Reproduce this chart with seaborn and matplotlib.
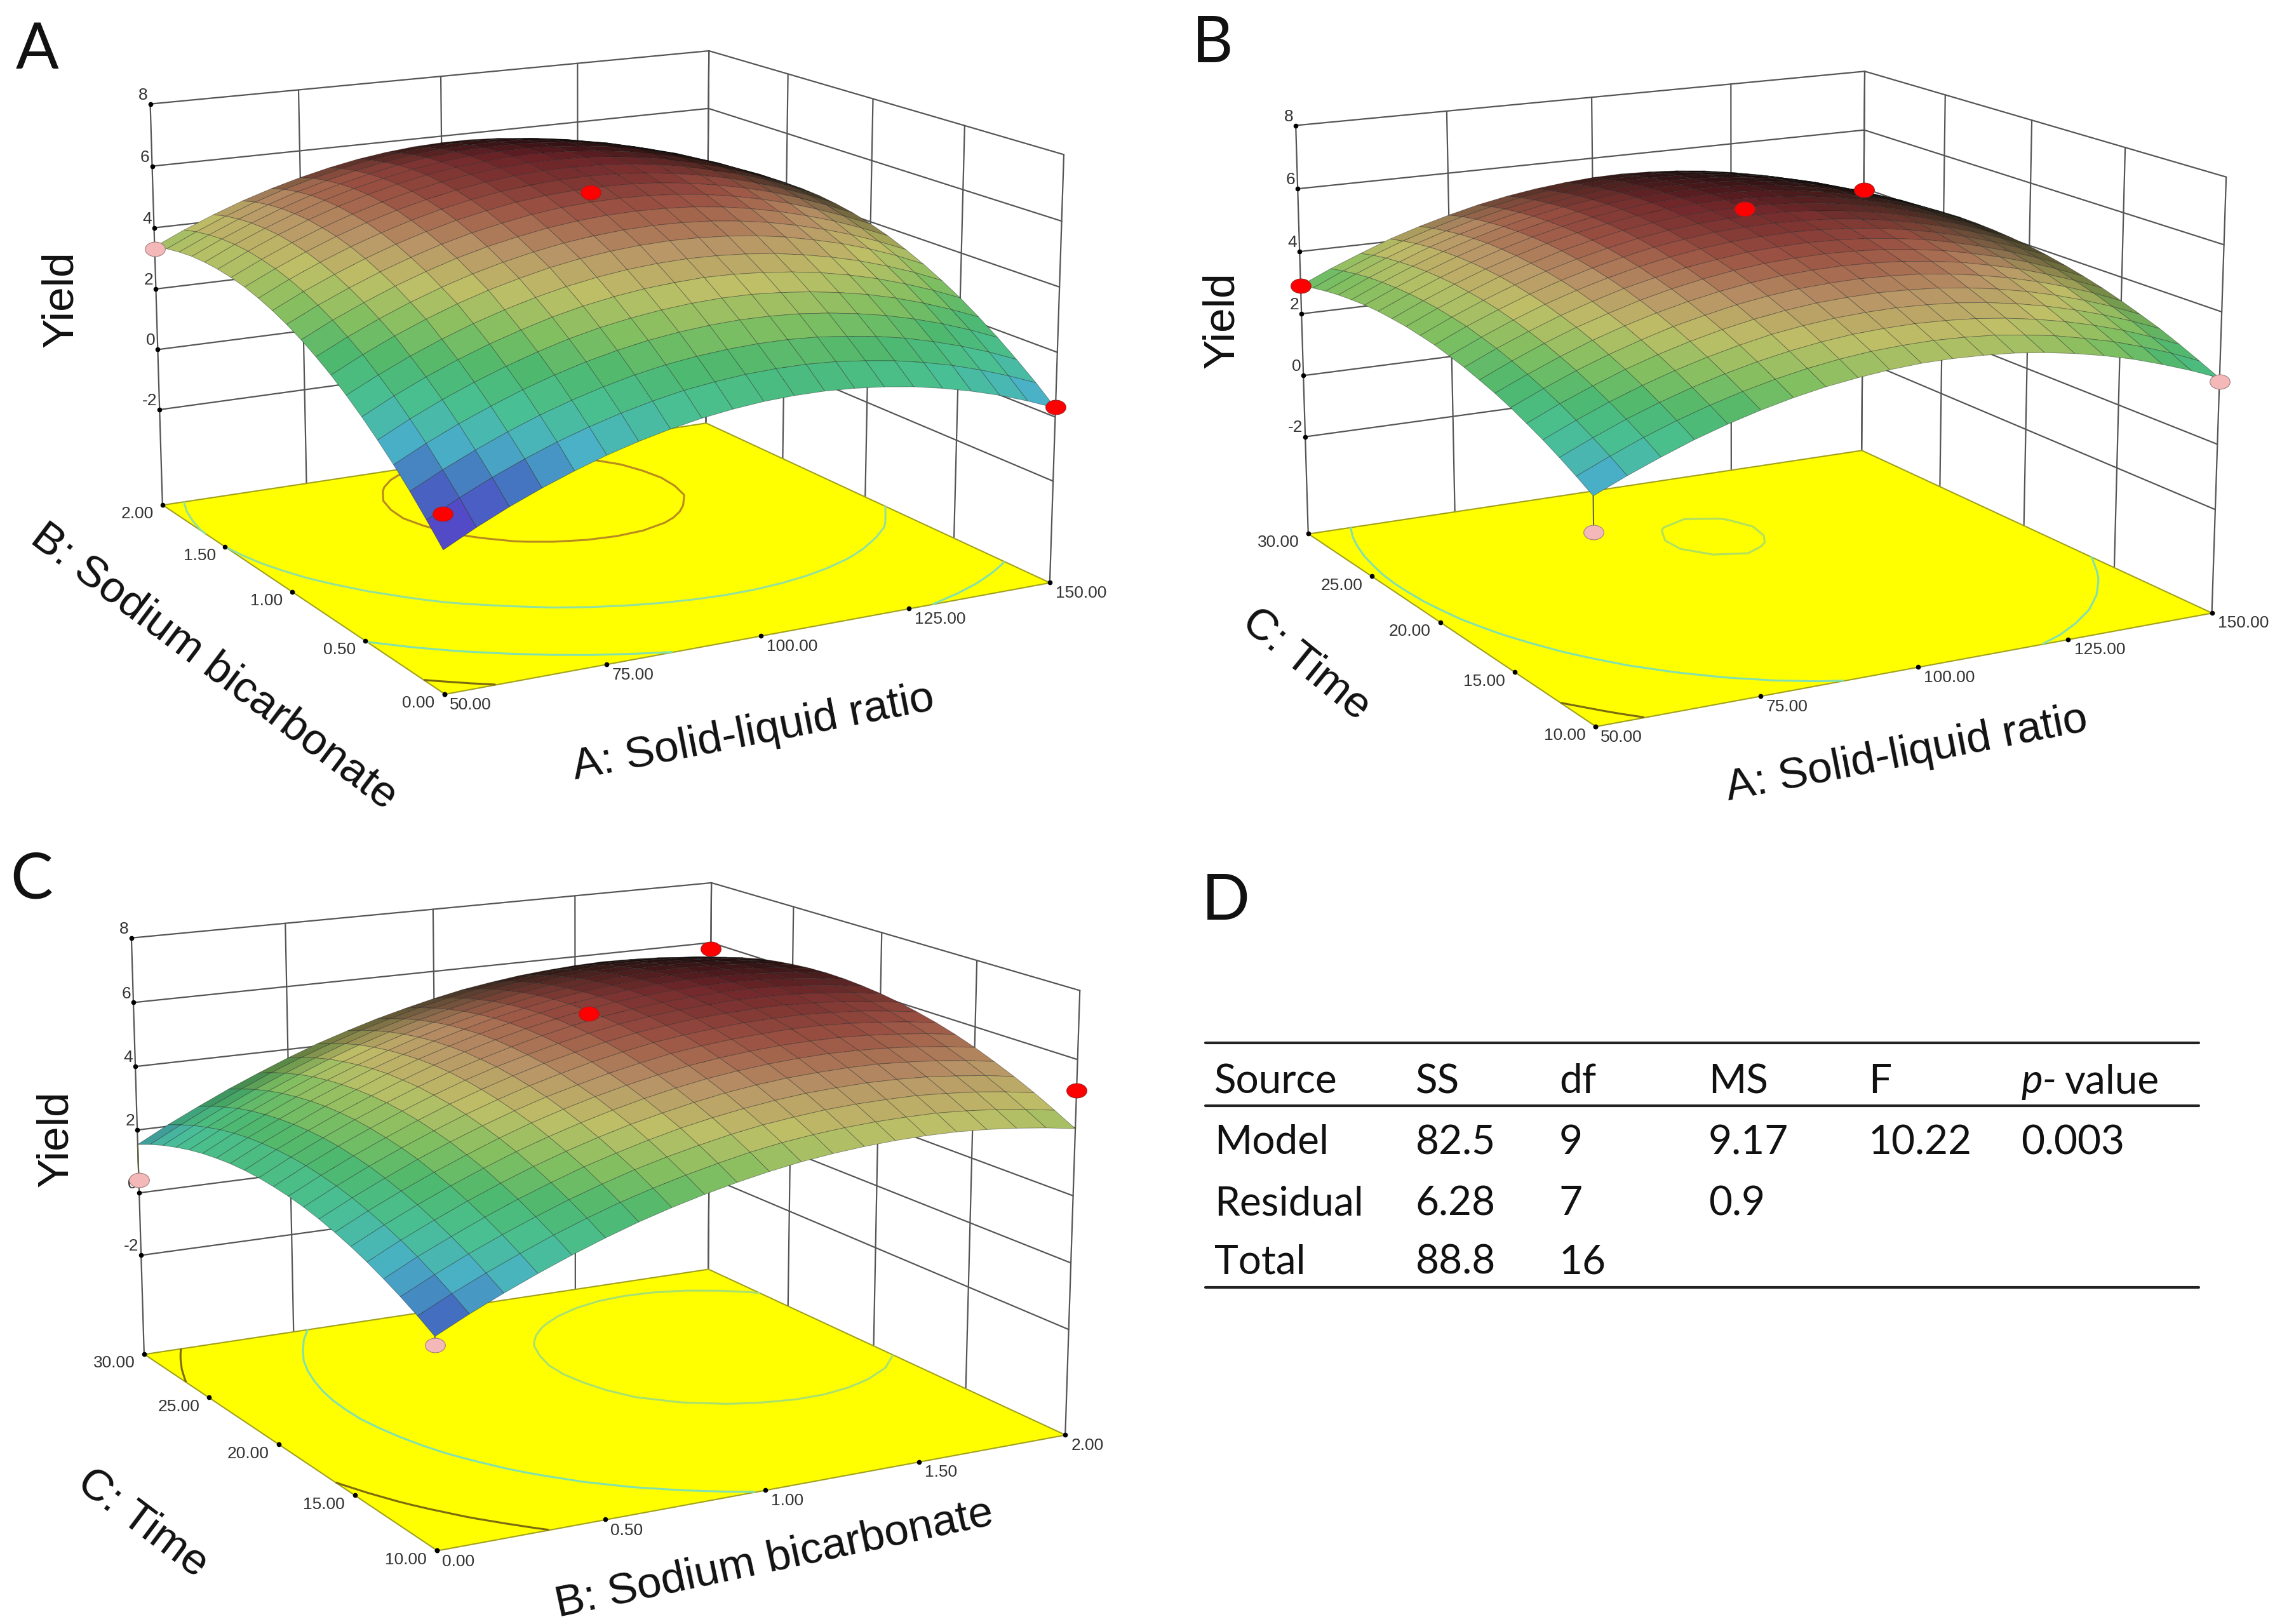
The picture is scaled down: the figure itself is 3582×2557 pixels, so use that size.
import numpy as np
import matplotlib
matplotlib.use("Agg")
import matplotlib.pyplot as plt
import matplotlib.path as mpath
from matplotlib.lines import Line2D
from matplotlib.transforms import Affine2D
from mpl_toolkits.mplot3d import proj3d
import seaborn as sns

# axis grids and ticks
ratio_grid = [50, 55, 60, 65, 70, 75, 80, 85, 90, 95, 100, 105, 110, 115, 120, 125, 130, 135, 140, 145, 150]
soda_grid = [0, 0.1, 0.2, 0.3, 0.4, 0.5, 0.6, 0.7, 0.8, 0.9, 1.0, 1.1, 1.2, 1.3, 1.4, 1.5, 1.6, 1.7, 1.8, 1.9, 2.0]
time_grid = [10, 11, 12, 13, 14, 15, 16, 17, 18, 19, 20, 21, 22, 23, 24, 25, 26, 27, 28, 29, 30]
ratio_ticks = [50, 75, 100, 125, 150]
soda_ticks = [0, 0.5, 1.0, 1.5, 2.0]
time_ticks = [10, 15, 20, 25, 30]
yield_ticks = [-2, 0, 2, 4, 6, 8]

yield_a = [
    [-1.03, -0.54, -0.10, 0.29, 0.64, 0.95, 1.21, 1.43, 1.61, 1.74, 1.83, 1.87, 1.87, 1.82, 1.73, 1.60, 1.42, 1.20, 0.94, 0.63, 0.28],
    [-0.45, 0.04, 0.48, 0.87, 1.22, 1.52, 1.78, 2.00, 2.18, 2.30, 2.39, 2.43, 2.43, 2.38, 2.28, 2.15, 1.97, 1.75, 1.48, 1.17, 0.82],
    [0.10, 0.58, 1.01, 1.40, 1.75, 2.05, 2.31, 2.53, 2.70, 2.82, 2.90, 2.94, 2.94, 2.89, 2.79, 2.66, 2.48, 2.25, 1.98, 1.67, 1.31],
    [0.61, 1.09, 1.52, 1.90, 2.25, 2.55, 2.81, 3.02, 3.19, 3.31, 3.39, 3.43, 3.42, 3.37, 3.27, 3.13, 2.95, 2.72, 2.45, 2.13, 1.77],
    [1.07, 1.55, 1.98, 2.36, 2.70, 3.00, 3.26, 3.47, 3.63, 3.75, 3.83, 3.87, 3.86, 3.80, 3.70, 3.56, 3.38, 3.15, 2.87, 2.55, 2.19],
    [1.50, 1.98, 2.41, 2.79, 3.13, 3.42, 3.68, 3.89, 4.05, 4.17, 4.24, 4.28, 4.26, 4.20, 4.10, 3.96, 3.77, 3.54, 3.26, 2.94, 2.58],
    [1.89, 2.36, 2.79, 3.17, 3.51, 3.80, 4.05, 4.26, 4.42, 4.54, 4.61, 4.64, 4.62, 4.56, 4.46, 4.31, 4.12, 3.89, 3.61, 3.29, 2.92],
    [2.25, 2.73, 3.16, 3.54, 3.88, 4.17, 4.41, 4.62, 4.78, 4.89, 4.96, 4.99, 4.97, 4.91, 4.81, 4.66, 4.46, 4.23, 3.95, 3.62, 3.23],
    [2.56, 3.03, 3.45, 3.83, 4.16, 4.45, 4.69, 4.89, 5.05, 5.16, 5.23, 5.26, 5.24, 5.18, 5.07, 4.92, 4.72, 4.48, 4.20, 3.87, 3.50],
    [2.84, 3.31, 3.72, 4.10, 4.43, 4.72, 4.96, 5.15, 5.31, 5.42, 5.49, 5.51, 5.49, 5.43, 5.32, 5.16, 4.96, 4.72, 4.44, 4.11, 3.74],
    [3.08, 3.54, 3.95, 4.32, 4.65, 4.94, 5.18, 5.37, 5.53, 5.64, 5.70, 5.72, 5.70, 5.63, 5.52, 5.36, 5.16, 4.92, 4.63, 4.30, 3.93],
    [3.28, 3.74, 4.15, 4.52, 4.85, 5.13, 5.37, 5.56, 5.72, 5.82, 5.88, 5.90, 5.88, 5.81, 5.69, 5.53, 5.33, 5.09, 4.80, 4.46, 4.09],
    [3.44, 3.90, 4.31, 4.68, 5.00, 5.28, 5.52, 5.71, 5.86, 5.96, 6.02, 6.04, 6.01, 5.94, 5.82, 5.66, 5.46, 5.21, 4.92, 4.58, 4.20],
    [3.57, 4.02, 4.43, 4.80, 5.12, 5.40, 5.63, 5.82, 5.97, 6.07, 6.13, 6.14, 6.11, 6.04, 5.92, 5.76, 5.55, 5.30, 5.01, 4.67, 4.28],
    [3.65, 4.10, 4.51, 4.87, 5.19, 5.47, 5.70, 5.89, 6.03, 6.13, 6.19, 6.20, 6.17, 6.09, 5.97, 5.81, 5.60, 5.35, 5.05, 4.71, 4.32],
    [3.70, 4.15, 4.56, 4.92, 5.24, 5.51, 5.74, 5.93, 6.07, 6.16, 6.22, 6.23, 6.19, 6.11, 5.99, 5.83, 5.61, 5.36, 5.06, 4.72, 4.33],
    [3.71, 4.16, 4.56, 4.92, 5.24, 5.51, 5.73, 5.92, 6.06, 6.15, 6.20, 6.21, 6.17, 6.09, 5.97, 5.80, 5.58, 5.33, 5.03, 4.68, 4.29],
    [3.69, 4.13, 4.53, 4.89, 5.21, 5.47, 5.69, 5.88, 6.02, 6.11, 6.15, 6.16, 6.12, 6.04, 5.91, 5.74, 5.52, 5.27, 4.96, 4.61, 4.22],
    [3.62, 4.06, 4.46, 4.82, 5.13, 5.39, 5.61, 5.79, 5.93, 6.02, 6.06, 6.07, 6.03, 5.94, 5.81, 5.64, 5.42, 5.16, 4.85, 4.50, 4.11],
    [3.52, 3.96, 4.36, 4.71, 5.02, 5.28, 5.50, 5.68, 5.81, 5.90, 5.94, 5.95, 5.90, 5.81, 5.68, 5.50, 5.28, 5.02, 4.71, 4.36, 3.97],
    [3.38, 3.82, 4.21, 4.56, 4.86, 5.12, 5.34, 5.52, 5.65, 5.74, 5.78, 5.78, 5.73, 5.64, 5.50, 5.32, 5.10, 4.84, 4.53, 4.18, 3.78],
]
yield_b = [
    [1.31, 1.73, 2.11, 2.46, 2.76, 3.02, 3.24, 3.42, 3.55, 3.65, 3.71, 3.72, 3.69, 3.63, 3.52, 3.37, 3.18, 2.95, 2.67, 2.36, 2.01],
    [1.60, 2.02, 2.41, 2.75, 3.05, 3.31, 3.53, 3.71, 3.85, 3.95, 4.00, 4.02, 3.99, 3.93, 3.81, 3.67, 3.47, 3.25, 2.97, 2.66, 2.30],
    [1.87, 2.29, 2.68, 3.02, 3.32, 3.58, 3.80, 3.98, 4.12, 4.22, 4.27, 4.29, 4.26, 4.20, 4.09, 3.94, 3.75, 3.52, 3.25, 2.93, 2.58],
    [2.12, 2.54, 2.93, 3.27, 3.57, 3.83, 4.05, 4.24, 4.37, 4.47, 4.52, 4.54, 4.51, 4.45, 4.34, 4.19, 4.00, 3.77, 3.50, 3.19, 2.84],
    [2.34, 2.77, 3.15, 3.50, 3.80, 4.06, 4.28, 4.46, 4.60, 4.70, 4.75, 4.77, 4.74, 4.68, 4.57, 4.42, 4.23, 4.00, 3.73, 3.42, 3.06],
    [2.55, 2.97, 3.36, 3.70, 4.00, 4.27, 4.48, 4.67, 4.81, 4.91, 4.96, 4.98, 4.95, 4.89, 4.78, 4.63, 4.44, 4.21, 3.94, 3.63, 3.27],
    [2.73, 3.15, 3.54, 3.89, 4.19, 4.45, 4.67, 4.85, 4.99, 5.09, 5.14, 5.16, 5.13, 5.07, 4.96, 4.82, 4.62, 4.40, 4.12, 3.81, 3.46],
    [2.88, 3.31, 3.70, 4.05, 4.34, 4.61, 4.83, 5.01, 5.15, 5.25, 5.30, 5.32, 5.29, 5.23, 5.12, 4.98, 4.78, 4.56, 4.29, 3.97, 3.62],
    [3.02, 3.45, 3.83, 4.18, 4.48, 4.75, 4.96, 5.15, 5.28, 5.39, 5.44, 5.46, 5.43, 5.37, 5.26, 5.12, 4.92, 4.69, 4.42, 4.11, 3.76],
    [3.13, 3.56, 3.95, 4.30, 4.60, 4.86, 5.08, 5.26, 5.40, 5.50, 5.56, 5.58, 5.55, 5.49, 5.38, 5.23, 5.04, 4.81, 4.54, 4.23, 3.88],
    [3.23, 3.66, 4.04, 4.39, 4.69, 4.95, 5.17, 5.36, 5.49, 5.60, 5.65, 5.67, 5.64, 5.58, 5.47, 5.33, 5.14, 4.91, 4.64, 4.33, 3.98],
    [3.29, 3.72, 4.11, 4.46, 4.76, 5.02, 5.24, 5.43, 5.57, 5.67, 5.72, 5.74, 5.72, 5.65, 5.54, 5.40, 5.21, 4.98, 4.71, 4.40, 4.05],
    [3.34, 3.77, 4.15, 4.51, 4.80, 5.07, 5.29, 5.48, 5.61, 5.72, 5.77, 5.79, 5.76, 5.70, 5.59, 5.45, 5.26, 5.03, 4.76, 4.45, 4.10],
    [3.36, 3.79, 4.18, 4.53, 4.83, 5.10, 5.32, 5.50, 5.64, 5.75, 5.80, 5.82, 5.79, 5.73, 5.62, 5.48, 5.29, 5.06, 4.79, 4.48, 4.13],
    [3.37, 3.79, 4.18, 4.53, 4.83, 5.10, 5.32, 5.51, 5.64, 5.75, 5.80, 5.82, 5.80, 5.74, 5.63, 5.49, 5.29, 5.07, 4.80, 4.49, 4.14],
    [3.35, 3.77, 4.16, 4.51, 4.82, 5.08, 5.30, 5.49, 5.62, 5.73, 5.78, 5.80, 5.78, 5.72, 5.61, 5.47, 5.28, 5.05, 4.78, 4.47, 4.12],
    [3.30, 3.73, 4.12, 4.47, 4.77, 5.04, 5.26, 5.45, 5.58, 5.69, 5.74, 5.76, 5.74, 5.68, 5.57, 5.43, 5.24, 5.01, 4.74, 4.44, 4.08],
    [3.24, 3.67, 4.05, 4.41, 4.71, 4.97, 5.19, 5.38, 5.52, 5.62, 5.68, 5.70, 5.67, 5.62, 5.51, 5.36, 5.17, 4.95, 4.68, 4.37, 4.02],
    [3.15, 3.58, 3.97, 4.32, 4.62, 4.89, 5.11, 5.30, 5.43, 5.54, 5.59, 5.61, 5.59, 5.53, 5.42, 5.28, 5.09, 4.87, 4.60, 4.29, 3.94],
    [3.04, 3.47, 3.86, 4.21, 4.51, 4.78, 5.00, 5.19, 5.32, 5.43, 5.48, 5.50, 5.48, 5.42, 5.31, 5.17, 4.98, 4.76, 4.49, 4.18, 3.84],
    [2.91, 3.34, 3.72, 4.08, 4.38, 4.64, 4.87, 5.05, 5.19, 5.29, 5.36, 5.38, 5.35, 5.29, 5.19, 5.04, 4.86, 4.64, 4.36, 4.06, 3.71],
]
yield_c = [
    [0.74, 1.21, 1.64, 2.04, 2.41, 2.75, 3.06, 3.33, 3.57, 3.78, 3.96, 4.11, 4.22, 4.30, 4.35, 4.37, 4.36, 4.31, 4.23, 4.12, 3.98],
    [1.04, 1.51, 1.94, 2.34, 2.72, 3.06, 3.37, 3.64, 3.88, 4.09, 4.28, 4.43, 4.54, 4.62, 4.67, 4.69, 4.69, 4.64, 4.56, 4.45, 4.31],
    [1.31, 1.78, 2.22, 2.62, 2.99, 3.34, 3.65, 3.93, 4.17, 4.38, 4.57, 4.72, 4.83, 4.92, 4.97, 4.99, 4.99, 4.94, 4.87, 4.76, 4.62],
    [1.55, 2.03, 2.46, 2.87, 3.25, 3.59, 3.91, 4.18, 4.43, 4.65, 4.83, 4.98, 5.10, 5.19, 5.24, 5.27, 5.26, 5.22, 5.14, 5.04, 4.90],
    [1.77, 2.25, 2.68, 3.09, 3.47, 3.82, 4.13, 4.41, 4.66, 4.87, 5.06, 5.22, 5.34, 5.43, 5.48, 5.51, 5.51, 5.46, 5.39, 5.29, 5.15],
    [1.96, 2.44, 2.88, 3.29, 3.67, 4.02, 4.33, 4.61, 4.86, 5.08, 5.27, 5.43, 5.55, 5.64, 5.70, 5.73, 5.72, 5.68, 5.61, 5.51, 5.38],
    [2.12, 2.60, 3.04, 3.45, 3.83, 4.19, 4.51, 4.79, 5.04, 5.26, 5.45, 5.61, 5.73, 5.82, 5.88, 5.91, 5.91, 5.87, 5.80, 5.71, 5.58],
    [2.26, 2.74, 3.18, 3.60, 3.98, 4.33, 4.65, 4.94, 5.18, 5.41, 5.60, 5.77, 5.89, 5.98, 6.04, 6.08, 6.08, 6.04, 5.97, 5.88, 5.75],
    [2.37, 2.85, 3.30, 3.71, 4.09, 4.45, 4.77, 5.06, 5.31, 5.54, 5.73, 5.90, 6.02, 6.11, 6.18, 6.21, 6.22, 6.18, 6.12, 6.02, 5.89],
    [2.45, 2.93, 3.38, 3.79, 4.18, 4.54, 4.86, 5.15, 5.41, 5.63, 5.83, 6.00, 6.12, 6.22, 6.28, 6.32, 6.33, 6.29, 6.23, 6.13, 6.01],
    [2.50, 2.99, 3.44, 3.85, 4.24, 4.60, 4.93, 5.22, 5.47, 5.70, 5.90, 6.07, 6.20, 6.29, 6.36, 6.40, 6.41, 6.38, 6.31, 6.22, 6.10],
    [2.53, 3.02, 3.47, 3.89, 4.28, 4.64, 4.97, 5.25, 5.51, 5.74, 5.94, 6.11, 6.24, 6.34, 6.41, 6.45, 6.46, 6.43, 6.37, 6.28, 6.16],
    [2.53, 3.02, 3.47, 3.89, 4.28, 4.64, 4.98, 5.27, 5.53, 5.76, 5.96, 6.13, 6.27, 6.37, 6.44, 6.48, 6.49, 6.46, 6.41, 6.32, 6.20],
    [2.50, 2.99, 3.44, 3.87, 4.26, 4.63, 4.96, 5.25, 5.52, 5.75, 5.95, 6.13, 6.26, 6.36, 6.44, 6.48, 6.49, 6.47, 6.41, 6.32, 6.21],
    [2.44, 2.94, 3.39, 3.82, 4.21, 4.58, 4.91, 5.21, 5.47, 5.71, 5.91, 6.09, 6.22, 6.33, 6.40, 6.45, 6.46, 6.44, 6.39, 6.30, 6.19],
    [2.36, 2.86, 3.31, 3.74, 4.14, 4.50, 4.84, 5.14, 5.41, 5.64, 5.85, 6.03, 6.16, 6.27, 6.35, 6.40, 6.41, 6.39, 6.34, 6.25, 6.14],
    [2.25, 2.75, 3.21, 3.64, 4.04, 4.40, 4.74, 5.04, 5.31, 5.55, 5.76, 5.94, 6.08, 6.18, 6.26, 6.31, 6.33, 6.31, 6.26, 6.18, 6.07],
    [2.11, 2.61, 3.08, 3.51, 3.91, 4.28, 4.62, 4.92, 5.19, 5.43, 5.64, 5.82, 5.96, 6.07, 6.15, 6.20, 6.22, 6.20, 6.16, 6.08, 5.97],
    [1.95, 2.45, 2.91, 3.35, 3.75, 4.12, 4.46, 4.77, 5.04, 5.28, 5.49, 5.68, 5.82, 5.93, 6.01, 6.07, 6.09, 6.07, 6.02, 5.94, 5.84],
    [1.76, 2.26, 2.73, 3.16, 3.57, 3.94, 4.28, 4.59, 4.86, 5.11, 5.32, 5.50, 5.65, 5.76, 5.85, 5.90, 5.92, 5.91, 5.86, 5.79, 5.68],
    [1.54, 2.05, 2.51, 2.95, 3.35, 3.73, 4.08, 4.38, 4.66, 4.90, 5.12, 5.31, 5.45, 5.57, 5.65, 5.71, 5.74, 5.72, 5.68, 5.60, 5.50],
]

# design points: x, y, yield at the point, yield of the surface below/above it, colour
points_a = [(50, 2, 3.3, 3.38, "pink"), (150, 0, 0.3, 0.28, "red"), (50, 0, 0.0, 0.0, "red"), (100, 1, 6.0, 6.0, "red")]
points_b = [(50, 30, 2.9, 2.91, "red"), (150, 30, 3.95, 3.95, "red"), (100, 20, 6.2, 6.2, "red"),
            (150, 10, 1.9, 2.01, "pink"), (50, 10, 0.3, 1.31, "pink")]
points_c = [(0, 30, 0.4, 1.54, "pink"), (2, 30, 5.8, 5.8, "red"), (1, 20, 6.5, 6.5, "red"),
            (2, 10, 5.1, 5.1, "red"), (0, 10, 0.5, 0.74, "pink")]

levels_a = [-0.3, 1.45, 3.7, 5.75]
levels_b = [1.9, 3.5, 5.77]
levels_c = [2.15, 3.9, 6.0]
level_colors_a = ["#7a6a10", "#80e0b0", "#90e0a0", "#b88a20"]
level_colors_b = ["#7a6a10", "#80e0b0", "#b0e060"]
level_colors_c = ["#7a6a10", "#80e0b0", "#a8e070"]

# table
table_header = ["Source", "SS", "df", "MS", "F"]
table_source = ["Model", "Residual", "Total"]
table_ss = ["82.5", "6.28", "88.8"]
table_df = ["9", "7", "16"]
table_ms = ["9.17", "0.9", ""]
table_f = ["10.22", "", ""]
table_p = ["0.003", "", ""]

W, H = 3582, 2557
FLOOR = -5.2
ZTOP = 8
ELEV, AZIM = 14.3, -118.8
BOX_Z = 0.645

sns.set_theme(style="white", font="Liberation Sans")
surface_cmap = sns.blend_palette(
    ["#5a50d8", "#4a78d0", "#50c0d8", "#4fd0a0", "#55c878", "#90d068",
     "#cfd070", "#c8a070", "#a85848", "#702028"], as_cmap=True)
dot_marker = mpath.Path.unit_circle().transformed(Affine2D().scale(1, 0.72))

fig = plt.figure(figsize=(W / 100, H / 100), dpi=100, facecolor="white")


def put_text(x, y, s, **kw):
    fig.text(x / W, 1 - y / H, s, **kw)


def facing(Z):
    # how much each mesh cell faces the viewer, the mesh goes black where it is seen edge-on
    n = Z.shape[0] - 1
    scale = BOX_Z / (ZTOP - FLOOR)
    dy, dx = np.gradient(Z * scale, 1 / n)
    e, a = np.radians(ELEV), np.radians(AZIM)
    view = np.array([np.cos(e) * np.cos(a), np.cos(e) * np.sin(a), np.sin(e)])
    return (-dx * view[0] - dy * view[1] + view[2]) / np.sqrt(dx ** 2 + dy ** 2 + 1)


def tick_label(ax, x, y, z, s, **kw):
    px, py, _ = proj3d.proj_transform(x, y, z, ax.get_proj())
    ax.text2D(px, py, s, transform=ax.transData, fontsize=19, color="#333333", **kw)


def draw_panel(center, width, xs, ys, zs, xticks, yticks, levels, level_colors, points, vmin, vmax):
    rect = [(center[0] - width / 2) / W, 1 - (center[1] + width / 2) / H, width / W, width / H]
    ax = fig.add_axes(rect, projection="3d", computed_zorder=False)
    ax.set_axis_off()
    ax.patch.set_alpha(0)
    ax.view_init(elev=ELEV, azim=AZIM)
    ax.set_proj_type("persp", focal_length=0.67)
    ax.set_box_aspect((1, 1, BOX_Z))
    ax.set_xlim(xs[0], xs[-1])
    ax.set_ylim(ys[0], ys[-1])
    ax.set_zlim(FLOOR, ZTOP)

    x0, x1, y0, y1 = xs[0], xs[-1], ys[0], ys[-1]
    wall = dict(color="#555555", lw=1.6, zorder=1)
    for z in yield_ticks:
        ax.plot([x0, x1, x1], [y1, y1, y0], [z, z, z], **wall)
    for x in xticks:
        ax.plot([x, x], [y1, y1], [FLOOR, ZTOP], **wall)
    for y in yticks:
        ax.plot([x1, x1], [y, y], [FLOOR, ZTOP], **wall)

    X, Y = np.meshgrid(xs, ys)
    Z = np.array(zs)

    # yellow floor with the contour lines of the surface on it
    fx, fy = np.meshgrid([x0, x1], [y0, y1])
    ax.plot_surface(fx, fy, np.full_like(fx, FLOOR, dtype=float), color="#ffff00", shade=False,
                    edgecolor="#a0a020", linewidth=1.5, zorder=2)
    ax.contour(X, Y, Z, levels=levels, zdir="z", offset=FLOOR, colors=level_colors, linewidths=2.2, zorder=3)

    # ticks on the floor edges and the yield edge
    ax.plot(xticks, [y0] * len(xticks), [FLOOR] * len(xticks), ls="", marker="o", ms=4.5, color="black", zorder=3)
    ax.plot([x0] * len(yticks), yticks, [FLOOR] * len(yticks), ls="", marker="o", ms=4.5, color="black", zorder=3)
    ax.plot([x0] * len(yield_ticks), [y1] * len(yield_ticks), yield_ticks, ls="", marker="o", ms=4.5,
            color="black", zorder=3)
    xspan, yspan = x1 - x0, y1 - y0
    for x in xticks:
        tick_label(ax, x, y0 - 0.015 * yspan, FLOOR, f"{x:.2f}", ha="left", va="top")
    for y in yticks:
        tick_label(ax, x0 - 0.015 * xspan, y, FLOOR, f"{y:.2f}", ha="right", va="top")
    for z in yield_ticks:
        tick_label(ax, x0, y1 + 0.01 * yspan, z, str(z), ha="right", va="bottom")

    colors = surface_cmap(np.clip((Z - vmin) / (vmax - vmin), 0, 1))
    dark = np.clip((facing(Z) - 0.08) / 0.22, 0, 1) * 0.92
    colors[..., :3] *= dark[..., None]
    ax.plot_surface(X, Y, Z, facecolors=colors, rstride=1, cstride=1, shade=False,
                    edgecolor=(0.1, 0.1, 0.1, 0.45), linewidth=0.6, zorder=4)

    for px, py, pz, sz, kind in points:
        if abs(pz - sz) > 0.05:
            ax.plot([px, px], [py, py], [pz, sz], color="#606040", lw=1.5, zorder=5)
        face, edge = ("#ff0000", "#a02020") if kind == "red" else ("#f5b8b8", "#a08080")
        ax.scatter([px], [py], [pz], s=520, marker=dot_marker, c=face, edgecolors=edge, linewidths=0.8,
                   depthshade=False, zorder=6)
    return ax


draw_panel((909, 554), 1573, ratio_grid, soda_grid, yield_a, ratio_ticks, soda_ticks,
           levels_a, level_colors_a, points_a, -1.0, 6.3)
draw_panel((2725, 595), 1602, ratio_grid, time_grid, yield_b, ratio_ticks, time_ticks,
           levels_b, level_colors_b, points_b, 0.0, 5.9)
draw_panel((905, 1882), 1633, soda_grid, time_grid, yield_c, soda_ticks, time_ticks,
           levels_c, level_colors_c, points_c, 0.0, 6.6)

# axis titles
label_kw = dict(fontsize=50, ha="center", va="center", rotation_mode="anchor", color="#111111")
put_text(96, 471, "Yield", rotation=90, **label_kw)
put_text(1186, 1154, "A: Solid-liquid ratio", rotation=11, **label_kw)
put_text(337, 1050, "B: Sodium bicarbonate", rotation=-37, **label_kw)
put_text(1924, 504, "Yield", rotation=90, **label_kw)
put_text(3002, 1187, "A: Solid-liquid ratio", rotation=11, **label_kw)
put_text(2057, 1046, "C: Time", rotation=-39, **label_kw)
put_text(88, 1793, "Yield", rotation=90, **label_kw)
put_text(1219, 2455, "B: Sodium bicarbonate", rotation=12, **label_kw)
put_text(225, 2398, "C: Time", rotation=-37, **label_kw)

# panel letters
letter_kw = dict(fontsize=72, ha="center", va="center", family="Lato", color="#111111")
put_text(59, 80, "A", **letter_kw)
put_text(1909, 70, "B", **letter_kw)
put_text(50, 1386, "C", **letter_kw)
put_text(1930, 1419, "D", **letter_kw)

# table D
for y in [1642, 1741, 2027]:
    fig.add_artist(Line2D([1898 / W, 3462 / W], [1 - y / H] * 2, color="#222222", lw=3))
table_kw = dict(fontsize=46, ha="left", va="center", family="Lato", color="#111111")
row_y = [1799, 1895, 1988]
col_x = [1912, 2229, 2455, 2690, 2942]
for cx, text in zip(col_x, table_header):
    put_text(cx, 1703, text, **table_kw)
put_text(3182, 1703, "p-", style="italic", **table_kw)
put_text(3250, 1703, "value", **table_kw)
for cx, column in zip(col_x + [3182], [table_source, table_ss, table_df, table_ms, table_f, table_p]):
    for ry, text in zip(row_y, column):
        if text:
            put_text(cx, ry, text, **table_kw)

fig.savefig("out.png", dpi=100)
